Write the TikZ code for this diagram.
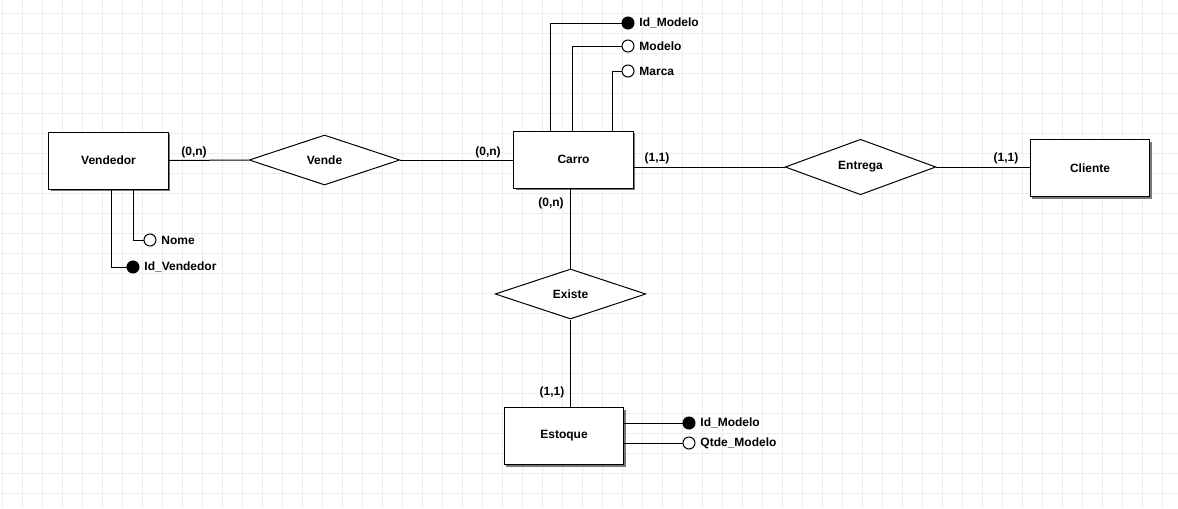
\documentclass[tikz,border=0pt]{standalone}
\usepackage{fontspec}
\setmainfont{Liberation Sans}
\usetikzlibrary{shapes.geometric,shadows}

\definecolor{gridgray}{RGB}{234,238,242}
\definecolor{shadowgray}{RGB}{120,120,120}

\begin{document}
\begin{tikzpicture}[x=0.75pt,y=-0.75pt,line width=0.75pt,
   every node/.style={font=\fontsize{9}{10}\selectfont\bfseries},
   entity/.style={draw,fill=white,minimum width=89.5pt,minimum height=42.75pt,
     drop shadow={shadow xshift=1.5pt,shadow yshift=-1.5pt,fill=shadowgray,opacity=1}},
   relation/.style={draw,diamond,fill=white,inner sep=0pt,minimum width=113pt,minimum height=37.5pt},
   attrib/.style={draw,circle,fill=white,inner sep=0pt,minimum size=9pt,label=right:{#1}},
   keyattrib/.style={attrib=#1,fill=black},
   card/.style={inner sep=1pt},
   gridline/.style={draw=gridgray,line width=0.75pt}]

   % background grid
   \fill[white] (0,0) rectangle (1178,508);
   \useasboundingbox (0,0) rectangle (1178,508);
   \foreach \gx in {2,22,...,1162} \draw[gridline] (\gx,0) -- (\gx,508);
   \foreach \gy in {13,33,...,493} \draw[gridline] (0,\gy) -- (1178,\gy);

   % entities and relations
   \node[entity] (Vendedor) at (108.5,160.5) {Vendedor};
   \node[entity] (Carro) at (573.5,159.5) {Carro};
   \node[entity] (Cliente) at (1090,168) {Cliente};
   \node[entity] (Estoque) at (564,436) {Estoque};
   \node[relation] (Vende) at (324.5,160) {Vende};
   \node[relation,minimum height=39pt] (Entrega) at (860.5,167) {Entrega};
   \node[relation] (Existe) at (570.5,294) {Existe};

   % attributes
   \node[keyattrib=Id\_Modelo] (carroid) at (628,23) {};
   \node[attrib=Modelo] (carromodelo) at (628,46) {};
   \node[attrib=Marca] (carromarca) at (628,71) {};
   \node[attrib=Nome] (vendnome) at (150,240) {};
   \node[keyattrib=Id\_Vendedor] (vendid) at (133,267) {};
   \node[keyattrib=Id\_Modelo] (estoqueid) at (689,423) {};
   \node[attrib=Qtde\_Modelo] (estoqueqtde) at (689,443) {};

   % cardinalities
   \node[card] (c_vend) at (194,152) {(0,n)};
   \node[card] (c_carro) at (488,152) {(0,n)};
   \node[card] (c_entr) at (657,158) {(1,1)};
   \node[card] (c_cli) at (1006,158) {(1,1)};
   \node[card] (c_exist) at (551,203) {(0,n)};
   \node[card] (c_est) at (552,392) {(1,1)};

   % relationships
   \draw (Vendedor.east) -- (Vende.west);
   \draw (Vende.east) -- (Vende.east -| Carro.west);
   \draw (Entrega.west -| Carro.east) -- (Entrega.west);
   \draw (Entrega.east) -- (Entrega.east -| Cliente.west);
   \draw (Existe.north |- Carro.south) -- (Existe.north);
   \draw (Existe.south) -- (Existe.south |- Estoque.north);

   % attribute links
   \draw (carroid.west) -| ([xshift=-17.25pt]Carro.north);
   \draw (carromodelo.west) -| ([xshift=-1.1pt]Carro.north);
   \draw (carromarca.west) -| ([xshift=29.25pt]Carro.north);
   \draw (vendnome.west) -| ([xshift=18.4pt]Vendedor.south);
   \draw (vendid.west) -| ([xshift=2.6pt]Vendedor.south);
   \draw (estoqueid.west) -- (estoqueid.west -| Estoque.east);
   \draw (estoqueqtde.west) -- (estoqueqtde.west -| Estoque.east);
\end{tikzpicture}
\end{document}
